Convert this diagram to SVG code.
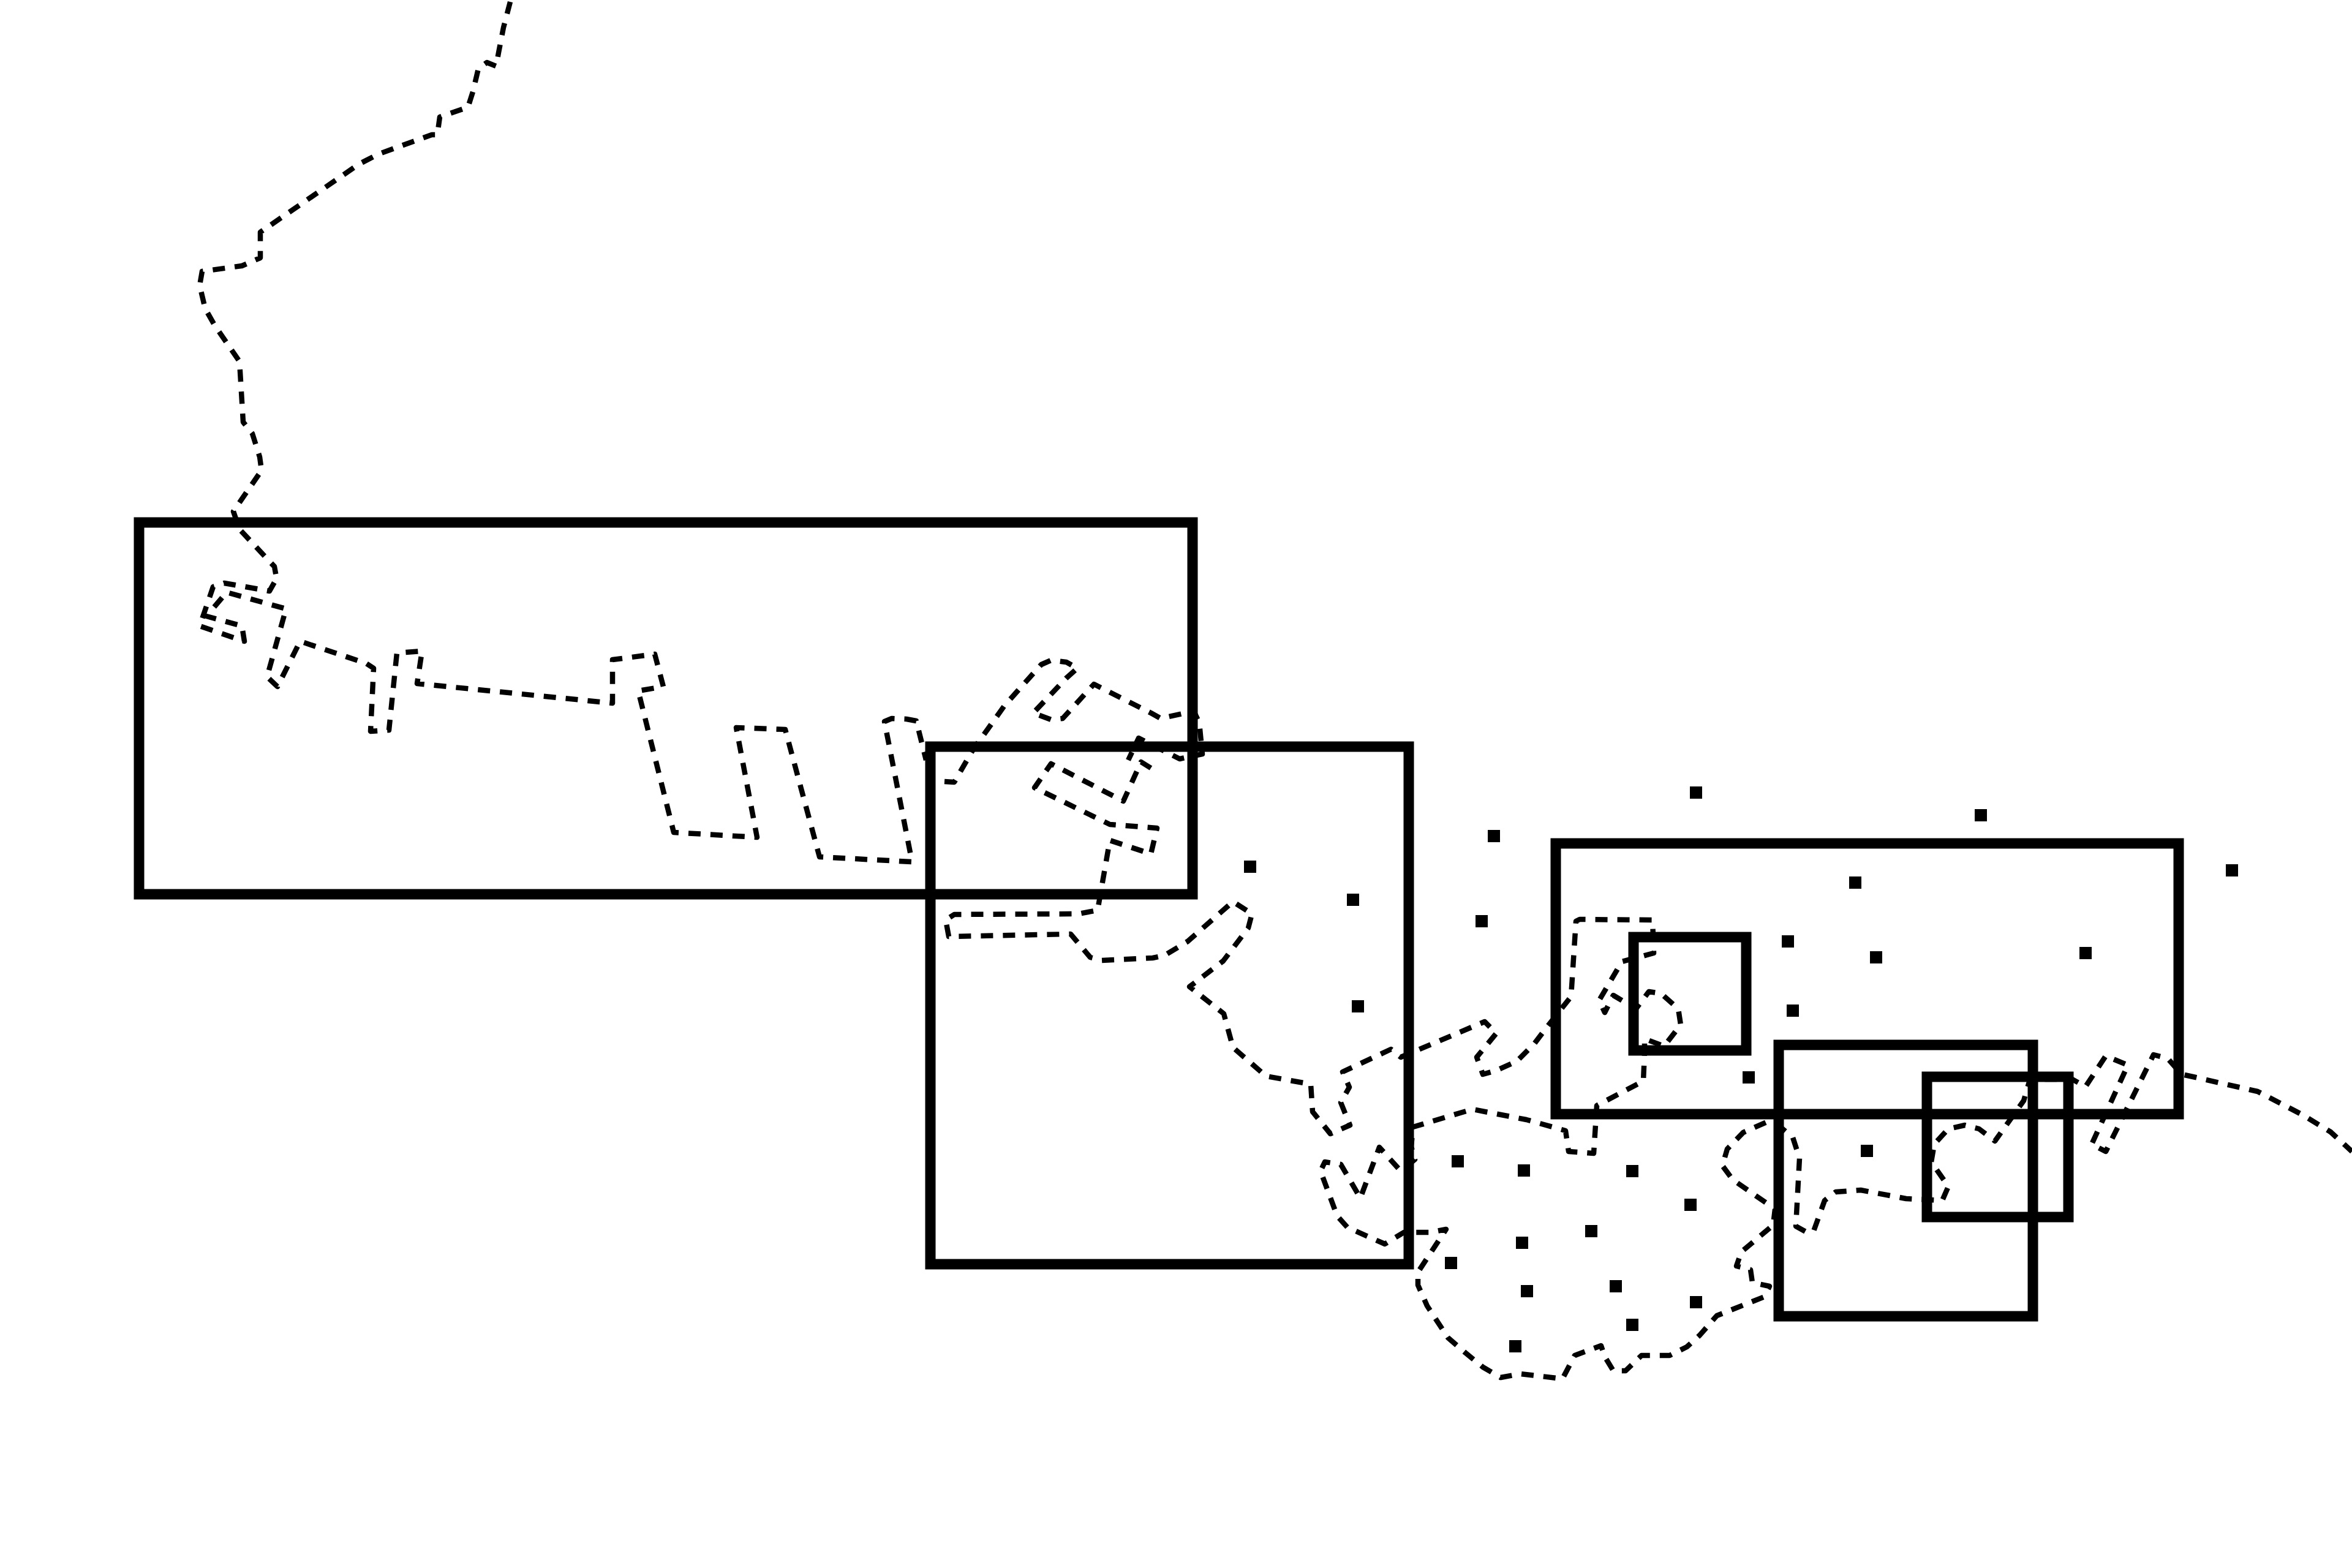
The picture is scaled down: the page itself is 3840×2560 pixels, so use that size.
<svg xmlns="http://www.w3.org/2000/svg" width="3840" height="2560" viewBox="0 0 3840 2560">
<style>
.dash{fill:none;stroke:#000;stroke-width:8.5;stroke-dasharray:20 16;stroke-linejoin:round}
.box{fill:none;stroke:#000;stroke-width:17}
.dot{fill:#000}
</style>
<rect width="3840" height="2560" fill="#fff"/>
<g id="connectors">
<path class="dash" d="M833 3L822 45L814 86L810 108L795 102L781 112L772 150L764 175L718 191L714 220L705 220L644 242L617 252L586 268L425 379L425 421L395 434L330 443L326 466L335 504L351 532L391 590L397 689L412 708L424 746L427 768L381 835L391 864L448 925L452 947L449 949L440 965L366 952L348 958L326 1022L399 1047L395 1022L337 1006L370 967L467 994L436 1105L453 1121L490 1047L598 1083L610 1091L605 1194L635 1192L648 1066L689 1063L681 1116L1000 1148L1000 1077L1069 1068L1083 1121L1042 1128L1100 1359L1236 1367L1202 1188L1282 1191L1338 1399L1489 1407L1444 1178L1456 1173L1480 1174L1496 1177L1512 1241"/>
<path class="dash" d="M1542 1276L1558 1277L1588 1225L1640 1152L1700 1085L1716 1078L1741 1081L1759 1091L1741 1107L1687 1164L1716 1175L1735 1173L1786 1117L1879 1164L1895 1173L1949 1161L1958 1180L1963 1231L1926 1239L1859 1205L1842 1241"/>
<path class="dash" d="M1879 1254L1863 1244L1834 1308L1716 1247L1689 1286L1812 1346L1889 1352L1879 1394L1812 1372L1792 1486L1761 1492L1558 1493L1544 1502L1549 1529L1748 1525L1780 1563L1799 1568L1882 1564L1901 1560L1939 1537L2013 1472L2044 1492L2038 1515L1997 1569L1942 1611L1998 1655L2013 1710L2067 1757L2140 1770L2143 1815L2172 1851L2204 1837L2189 1800L2203 1775L2192 1750L2271 1713L2287 1726L2424 1668L2443 1687L2411 1726L2421 1754L2442 1748L2476 1733L2505 1704L2524 1679L2565 1627L2573 1504L2579 1501L2698 1502L2700 1556L2648 1570L2611 1633L2620 1653L2634 1625L2671 1647L2692 1619L2712 1622L2740 1647L2744 1673L2717 1708L2685 1696L2685 1719L2683 1765L2607 1805L2602 1883L2561 1880L2556 1846L2492 1828L2404 1811L2307 1840L2304 1872L2310 1893L2287 1912L2252 1873L2221 1956L2189 1901L2163 1897L2156 1912L2183 1985L2200 2004L2261 2031L2292 2012L2335 2012L2361 2007L2315 2077L2315 2098L2330 2132L2364 2184L2393 2209L2421 2232L2450 2249L2482 2243L2551 2251L2571 2213L2614 2197L2620 2215L2634 2238L2654 2238L2680 2213L2726 2213L2754 2199L2775 2180L2803 2148L2881 2117L2889 2100L2861 2094L2858 2073L2835 2067L2843 2044L2895 2000L2898 1974L2829 1926L2812 1903L2820 1876L2846 1849L2884 1832L2909 1842L2927 1857L2938 1891L2932 2002L2950 2012L2961 2010L2979 1960L2997 1946L3038 1943L3112 1957L3171 1960L3181 1937L3153 1897L3158 1868L3181 1843L3208 1837L3231 1843L3257 1863L3304 1797L3314 1763L3341 1762L3383 1762L3405 1774L3438 1724L3474 1739L3415 1868L3438 1880L3516 1722L3539 1728L3562 1754L3585 1759L3686 1782L3759 1820L3805 1848L3840 1880"/>
</g>
<g id="box-1"><rect class="box" x="227" y="853" width="1720" height="607"/></g>
<g id="box-2"><rect class="box" x="1519" y="1219" width="781" height="845"/></g>
<g id="box-3"><rect class="box" x="2540" y="1377" width="1017" height="442"/></g>
<g id="box-4"><rect class="box" x="2667" y="1530" width="184" height="185"/></g>
<g id="box-5"><rect class="box" x="2904" y="1706" width="415" height="443"/></g>
<g id="box-6"><rect class="box" x="3146" y="1758" width="231" height="229"/></g>
<g id="points" class="dot">
<rect x="2759" y="1284" width="20" height="20"/><rect x="3224" y="1321" width="20" height="20"/><rect x="2429" y="1355" width="20" height="20"/><rect x="3634" y="1411" width="20" height="20"/><rect x="3019" y="1431" width="20" height="20"/><rect x="2409" y="1494" width="20" height="20"/><rect x="2909" y="1527" width="20" height="20"/><rect x="3053" y="1553" width="20" height="20"/><rect x="3395" y="1546" width="20" height="20"/><rect x="2917" y="1640" width="20" height="20"/><rect x="2845" y="1749" width="20" height="20"/><rect x="3038" y="1869" width="20" height="20"/><rect x="2370" y="1886" width="20" height="20"/><rect x="2478" y="1901" width="20" height="20"/><rect x="2655" y="1902" width="20" height="20"/><rect x="2750" y="1957" width="20" height="20"/><rect x="2588" y="2000" width="20" height="20"/><rect x="2475" y="2019" width="20" height="20"/><rect x="2359" y="2052" width="20" height="20"/><rect x="2483" y="2098" width="20" height="20"/><rect x="2628" y="2090" width="20" height="20"/><rect x="2759" y="2116" width="20" height="20"/><rect x="2655" y="2153" width="20" height="20"/><rect x="2464" y="2188" width="20" height="20"/><rect x="2031" y="1405" width="20" height="20"/><rect x="2199" y="1459" width="20" height="20"/><rect x="2207" y="1633" width="20" height="20"/>
</g>
</svg>
